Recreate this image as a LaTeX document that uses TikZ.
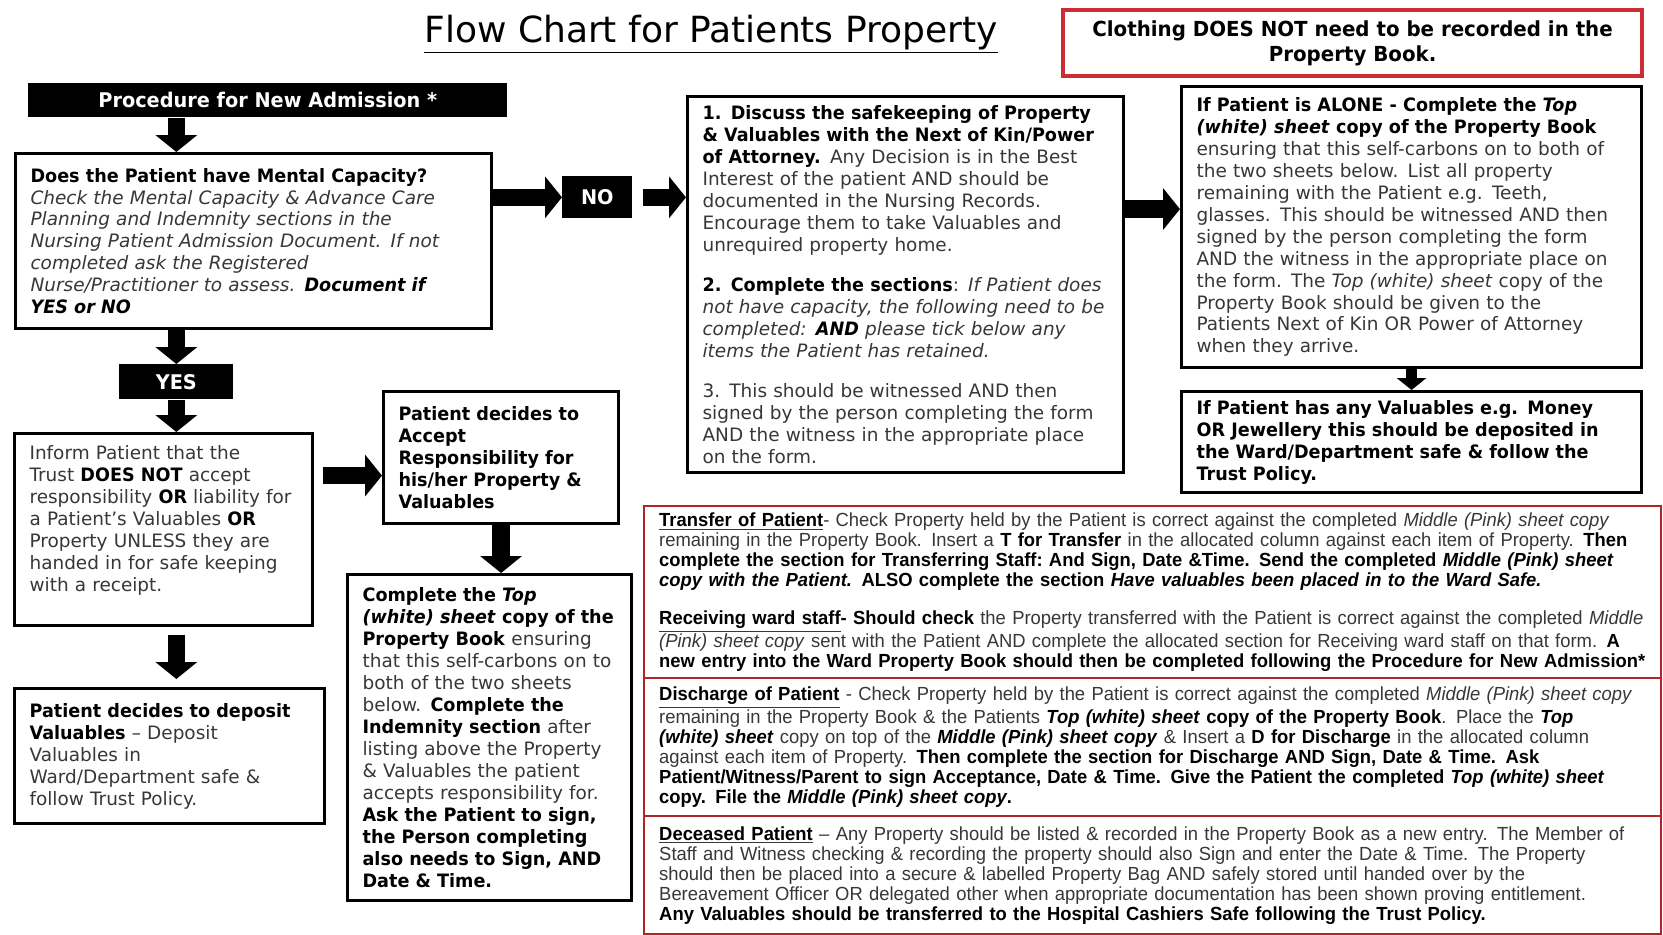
\documentclass[tikz,border=0pt]{standalone}
\usepackage{fontspec}
\setmainfont{DejaVu Sans}[BoldFeatures={FakeStretch=0.955}, BoldItalicFeatures={FakeStretch=0.955}]
\newfontfamily\narrowfont[FakeStretch=0.97, Ligatures=TeX]{Liberation Sans}
\usetikzlibrary{arrows.meta, positioning, calc}
\definecolor{alerta}{RGB}{205,45,50}
\definecolor{texto}{RGB}{55,55,55}
\tikzset{
  pbox/.style = {draw=black, line width=1.8pt, fill=white, anchor=north west,
    align=left, inner xsep=0.3cm, inner ysep=0.1cm, text=texto,
    font=\fontsize{10.5}{12.5}\selectfont},
  pboxb/.style = {pbox, text=black, font=\bfseries\fontsize{10.5}{12.5}\selectfont},
  tag/.style = {fill=black, text=white, anchor=north west, inner sep=0pt,
    font=\bfseries\fontsize{11.5}{13}\selectfont},
  seta/.style = {-{Triangle[width=0.82cm, length=0.34cm]}, line width=10pt, draw=black},
  setap/.style = {-{Triangle[width=0.58cm, length=0.24cm]}, line width=6pt, draw=black},
  rbox/.style = {draw=alerta, line width=2.4pt, anchor=north west, align=center,
    inner sep=0pt, font=\bfseries\fontsize{11.8}{14}\selectfont},
  sec/.style = {draw=alerta!85!black, line width=1.4pt, anchor=north west,
    align=left, inner xsep=0.3cm, inner ysep=0pt, text=texto,
    font=\narrowfont\fontsize{10.8}{11.4}\selectfont}
}
\newcommand{\kb}[1]{\textcolor{black}{\textbf{#1}}}
\newcommand{\kbi}[1]{\textcolor{black}{\textbf{\textit{#1}}}}

\begin{document}
\begin{tikzpicture}[x=0.02cm, y=-0.02cm]
  \useasboundingbox [fill=white] (0,0) rectangle (1663,934);
  % title and note
  \node [font=\fontsize{20.5}{24}\selectfont] (titulo) at (711,34) {\underline{Flow Chart for Patients Property}};
  \node [rbox, minimum width=11.58cm, minimum height=1.32cm] (roupa) at (1061,8) {Clothing DOES NOT need to be recorded in the\\Property Book.};
  % left column
  \node [tag, minimum width=9.58cm, minimum height=0.68cm] (proc) at (28,83) {Procedure for New Admission *};
  \node [pbox, minimum width=9.52cm, text width=8.92cm, minimum height=3.5cm] (cap) at (14,152) {\kb{Does the Patient have Mental Capacity?}\\
    \textit{Check the Mental Capacity \& Advance Care}\\
    \textit{Planning and Indemnity sections in the}\\
    \textit{Nursing Patient Admission Document. If not}\\
    \textit{completed ask the Registered}\\
    \textit{Nurse/Practitioner to assess.} \kbi{Document if}\\
    \kbi{YES or NO}};
  \node [tag, minimum width=1.4cm, minimum height=0.84cm] (no) at (562,176) {NO};
  \node [tag, minimum width=2.28cm, minimum height=0.7cm] (yes) at (119,364) {YES};
  \node [pbox, minimum width=5.96cm, text width=5.36cm, minimum height=3.84cm] (inform) at (13,432) {Inform Patient that the\\
    Trust \kb{DOES NOT} accept\\
    responsibility \kb{OR} liability for\\
    a Patient's Valuables \kb{OR}\\
    Property UNLESS they are\\
    handed in for safe keeping\\
    with a receipt.\rule[-0.45cm]{0pt}{0.45cm}};
  \node [pbox, minimum width=6.2cm, text width=5.6cm, minimum height=2.7cm] (deposit) at (13,687) {\kb{Patient decides to deposit}\\
    \kb{Valuables} -- Deposit\\
    Valuables in\\
    Ward/Department safe \&\\
    follow Trust Policy.};
  % middle column
  \node [pboxb, minimum width=4.7cm, text width=4.1cm, minimum height=2.64cm] (accept) at (382,390) {Patient decides to\\
    Accept\\
    Responsibility for\\
    his/her Property \&\\
    Valuables};
  \node [pbox, minimum width=5.68cm, text width=5.08cm, minimum height=6.52cm] (complete) at (346,573) {\kb{Complete the \textit{Top}}\\
    \kbi{(white) sheet}\kb{ copy of the}\\
    \kb{Property Book} ensuring\\
    that this self-carbons on to\\
    both of the two sheets\\
    below. \kb{Complete the}\\
    \kb{Indemnity section} after\\
    listing above the Property\\
    \& Valuables the patient\\
    accepts responsibility for.\\
    \kb{Ask the Patient to sign,}\\
    \kb{the Person completing}\\
    \kb{also needs to Sign, AND}\\
    \kb{Date \& Time.}};
  \node [pbox, minimum width=8.72cm, text width=8.12cm, minimum height=7.52cm] (disc) at (686,95) {\kb{1. Discuss the safekeeping of Property}\\
    \kb{\& Valuables with the Next of Kin/Power}\\
    \kb{of Attorney.} Any Decision is in the Best\\
    Interest of the patient AND should be\\
    documented in the Nursing Records.\\
    Encourage them to take Valuables and\\
    unrequired property home.\\[0.36cm]
    \kb{2. Complete the sections}: \textit{If Patient does}\\
    \textit{not have capacity, the following need to be}\\
    \textit{completed:} \kbi{AND} \textit{please tick below any}\\
    \textit{items the Patient has retained.}\\[0.36cm]
    3. This should be witnessed AND then\\
    signed by the person completing the form\\
    AND the witness in the appropriate place\\
    on the form.};
  % right column
  \node [pbox, minimum width=9.2cm, text width=8.6cm, minimum height=5.62cm] (alone) at (1180,85) {\kb{If Patient is ALONE - Complete the \textit{Top}}\\
    \kbi{(white) sheet}\kb{ copy of the Property Book}\\
    ensuring that this self-carbons on to both of\\
    the two sheets below. List all property\\
    remaining with the Patient e.g. Teeth,\\
    glasses. This should be witnessed AND then\\
    signed by the person completing the form\\
    AND the witness in the appropriate place on\\
    the form. The \textit{Top (white) sheet} copy of the\\
    Property Book should be given to the\\
    Patients Next of Kin OR Power of Attorney\\
    when they arrive.};
  \node [pboxb, minimum width=9.2cm, text width=8.6cm, minimum height=2.02cm] (valu) at (1180,390) {If Patient has any Valuables e.g. Money\\
    OR Jewellery this should be deposited in\\
    the Ward/Department safe \& follow the\\
    Trust Policy.};
  % bottom sections
  \node [sec, minimum width=20.34cm, text width=19.74cm, minimum height=3.44cm] (transf) at (643,505) {\underline{\kb{Transfer of Patient}}- Check Property held by the Patient is correct against the completed \textit{Middle (Pink) sheet copy}\\
    remaining in the Property Book. Insert a \kb{T for Transfer} in the allocated column against each item of Property. \kb{Then}\\
    \kb{complete the section for Transferring Staff:\ And Sign, Date \&Time. Send the completed \textit{Middle (Pink) sheet}}\\
    \kb{\textit{copy with the Patient.} ALSO complete the section \textit{Have valuables been placed in to the Ward Safe.}}\\[0.36cm]
    \underline{\kb{Receiving ward staff}}\kb{- Should check} the Property transferred with the Patient is correct against the completed \textit{Middle}\\
    \textit{(Pink) sheet copy} sent with the Patient AND complete the allocated section for Receiving ward staff on that form. \kb{A}\\
    \kb{new entry into the Ward Property Book should then be completed following the Procedure for New Admission*}};
  \node [sec, minimum width=20.34cm, text width=19.74cm, minimum height=2.76cm] (disch) at (643,677) {\underline{\kb{Discharge of Patient}} - Check Property held by the Patient is correct against the completed \textit{Middle (Pink) sheet copy}\\
    remaining in the Property Book \& the Patients \kbi{Top (white) sheet}\kb{ copy of the Property Book}. Place the \kbi{Top}\\
    \kbi{(white) sheet} copy on top of the \kbi{Middle (Pink) sheet copy} \& Insert a \kb{D for Discharge} in the allocated column\\
    against each item of Property. \kb{Then complete the section for Discharge AND Sign, Date \& Time. Ask}\\
    \kb{Patient/Witness/Parent to sign Acceptance, Date \& Time. Give the Patient the completed \textit{Top (white) sheet}}\\
    \kb{copy. File the \textit{Middle (Pink) sheet copy}.}};
  \node [sec, minimum width=20.34cm, text width=19.74cm, minimum height=2.36cm] (dec) at (643,815) {\underline{\kb{Deceased Patient}} -- Any Property should be listed \& recorded in the Property Book as a new entry. The Member of\\
    Staff and Witness checking \& recording the property should also Sign and enter the Date \& Time. The Property\\
    should then be placed into a secure \& labelled Property Bag AND safely stored until handed over by the\\
    Bereavement Officer OR delegated other when appropriate documentation has been shown proving entitlement.\\
    \kb{Any Valuables should be transferred to the Hospital Cashiers Safe following the Trust Policy.}};
  % arrows
  \coordinate (pa) at ([yshift=0.36cm]alone.west);
  \coordinate (pb) at ([yshift=-0.36cm]accept.west);
  \draw [seta] (proc.south -| yes) -- (cap.north -| yes);
  \draw [seta] (cap.east |- no) -- (no.west);
  \draw [seta, shorten <=0.2cm] (no.east) -- (disc.west |- no);
  \draw [seta] (disc.east |- pa) -- (pa);
  \draw [setap] (alone.south) -- (valu.north);
  \draw [seta] (cap.south -| yes) -- (yes.north);
  \draw [seta] (yes.south) -- (inform.north -| yes);
  \draw [seta, shorten <=0.18cm] (inform.east |- pb) -- (pb);
  \draw [seta] (accept.south) -- (complete.north -| accept.south);
  \draw [seta, shorten <=0.16cm, shorten >=0.16cm] (inform.south -| yes) -- (deposit.north -| yes);
\end{tikzpicture}
\end{document}
